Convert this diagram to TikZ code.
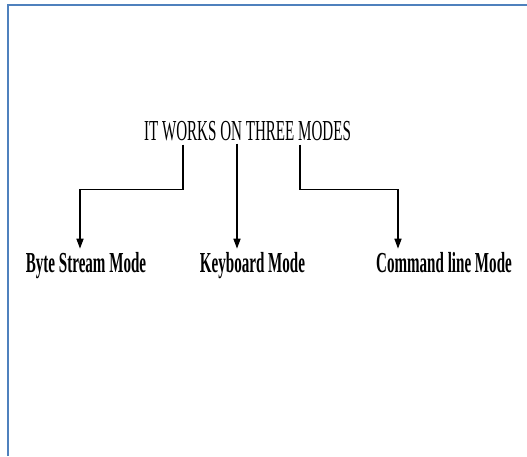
\documentclass[tikz,border=0pt]{standalone}
\usepackage{fontspec}
\usepackage{xcolor}
\usetikzlibrary{arrows.meta}
\newfontfamily\modefont[FakeStretch=0.52]{Liberation Serif}
\definecolor{framecol}{RGB}{79,129,189}

\begin{document}
\begin{tikzpicture}[
  x=1pt, y=-1pt,
  every node/.style={inner sep=0pt, anchor=base, font=\modefont\fontsize{29}{32}\selectfont},
  modebox/.style={font=\modefont\bfseries\fontsize{29}{32}\selectfont},
  conn/.style={line width=1.5pt, -{Triangle[length=10pt,width=7pt]}, shorten >=3pt}
]
\useasboundingbox (0,0) rectangle (527,456);
\draw[framecol, line width=2.6pt] (8,456) |- (527,5);

\node (title) at (247.5,140) {IT WORKS ON THREE MODES};
\node (byte) [modebox] at (86,272) {Byte Stream Mode};
\node (keyb) [modebox] at (252.5,272) {Keyboard Mode};
\node (cmd) [modebox] at (444,272) {Command line Mode};

% elbow connectors from the title down to each mode
\draw[conn] ([xshift=-64.5,yshift=-4]title.south) -- ++(0,45) -| ([xshift=-6]byte.north);
\draw[conn] ([xshift=-10.5,yshift=-3]title.south) -- ([xshift=-15.5]keyb.north);
\draw[conn] ([xshift=52.5,yshift=-4]title.south) -- ++(0,45) -| ([xshift=-46]cmd.north);
\end{tikzpicture}
\end{document}
